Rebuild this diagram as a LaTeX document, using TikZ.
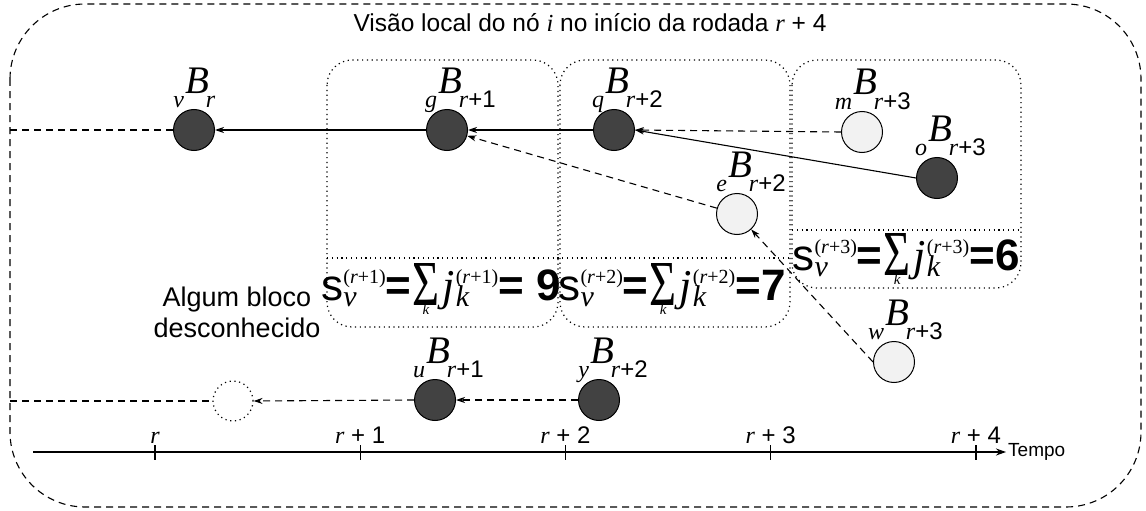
\documentclass[tikz,border=0pt]{standalone}
\usepackage{fontspec}
\usepackage{graphicx}
\setmainfont{Liberation Sans}
\newfontfamily\serif{Liberation Serif}
\usetikzlibrary{arrows.meta,positioning}
\definecolor{escuro}{HTML}{424242}
\definecolor{claro}{HTML}{F2F2F2}
\newcommand{\fsz}[1]{\fontsize{#1}{#1}\selectfont}
\newcommand{\itl}[1]{{\serif\itshape #1}}
% bloco: letra do no a esquerda, B, rodada a direita
\newcommand{\blk}[2]{\llap{\fsz{24}\itl{#1}\kern1pt}\raisebox{14pt}{\fsz{39}\itl{B}}\rlap{\kern-3pt\fsz{24}\itl{r}#2}}
% soma das rodadas
\newcommand{\ssc}[2]{\rlap{\raisebox{-6pt}{#2}}\raisebox{17pt}{#1}}
\newcommand{\rod}[1]{\fsz{20}\serif(\textit{r}+#1)}
\newcommand{\somat}{\rlap{\raisebox{-5pt}{\resizebox{27pt}{42pt}{\serif Σ}}}\makebox[27pt][c]{\raisebox{-14pt}{\fsz{15}\itl{k}}}}
\newcommand{\soma}[2]{\fsz{44}s\ssc{\rod{#1}}{\fsz{30}\itl{v}}{\bfseries=}\kern1pt\somat\kern3pt{\fsz{44}\itl{j}}\kern1pt\ssc{\rod{#1}}{\fsz{30}\itl{k}}{\bfseries=#2}}

\begin{document}
\begin{tikzpicture}[x=1pt,y=-1pt,
  bloco/.style={circle,draw,line width=1pt,minimum size=41pt,inner sep=0pt},
  escuro/.style={bloco,fill=escuro},
  claro/.style={bloco,fill=claro},
  rotulo/.style={anchor=base,inner sep=0pt},
  seta/.style={-{Stealth[length=9pt,width=6pt]},line width=1.1pt},
  tracejado/.style={seta,dash pattern=on 7pt off 5pt},
  pontilhado/.style={line width=1.2pt,dash pattern=on 1.2pt off 3.6pt},
  caixa/.style={pontilhado,rounded corners=25pt}]
\useasboundingbox (0,0) rectangle (1146,511);
% moldura e titulo
\draw[line width=1.1pt,dash pattern=on 7pt off 5pt,rounded corners=75pt] (10,4) rectangle (1141,507);
\node[rotulo,font=\fsz{24.5}] (titulo) at (590,32) {Visão local do nó \itl{i} no início da rodada \itl{r} + 4};

% rodadas
\draw[caixa] (327,60) rectangle (558,327);
\draw[caixa] (560,60) rectangle (790,327);
\draw[caixa] (792,60) rectangle (1021,288);
\draw[pontilhado] (327,258) -- (790,258);
\draw[pontilhado] (792,230) -- (1021,230);
\node[rotulo] (s1) at (441,300) {\soma{1}{ 9}};
\node[rotulo] (s2) at (672,300) {\soma{2}{7}};
\node[rotulo] (s3) at (906,270) {\soma{3}{6}};

% blocos
\node[escuro] (v) at (194,130) {};
\node[escuro] (g) at (447,130) {};
\node[escuro] (q) at (614,130) {};
\node[claro] (m) at (862,132) {};
\node[escuro] (o) at (937,178) {};
\node[claro] (e) at (737,214) {};
\node[claro] (w) at (894,362) {};
\node[escuro] (u) at (435,400) {};
\node[escuro] (y) at (599,400) {};
\node[circle,draw,pontilhado,minimum size=40pt,inner sep=0pt] (x) at (233,401) {};
\node[rotulo,align=center,font=\fsz{27}] (xt) at (237,337) {Algum bloco\\[4pt]desconhecido};

\node[rotulo] at ([xshift=3pt,yshift=2pt]v.north) {\blk{v}{}};
\node[rotulo] at ([xshift=3pt,yshift=2pt]g.north) {\blk{g}{+1}};
\node[rotulo] at ([xshift=3pt,yshift=2pt]q.north) {\blk{q}{+2}};
\node[rotulo] at ([xshift=3pt,yshift=2pt]m.north) {\blk{m}{+3}};
\node[rotulo] at ([xshift=3pt,yshift=2pt]o.north) {\blk{o}{+3}};
\node[rotulo] at ([xshift=3pt,yshift=2pt]e.north) {\blk{e}{+2}};
\node[rotulo] at ([xshift=3pt,yshift=2pt]w.north) {\blk{w}{+3}};
\node[rotulo] at ([xshift=3pt,yshift=2pt]u.north) {\blk{u}{+1}};
\node[rotulo] at ([xshift=3pt,yshift=2pt]y.north) {\blk{y}{+2}};

% ligacoes
\coordinate (iv) at (10,130);
\coordinate (ix) at (10,401);
\draw[line width=1.1pt,dash pattern=on 7pt off 5pt] (iv) -- (v.west);
\draw[line width=1.1pt,dash pattern=on 7pt off 5pt] (ix) -- (x.west);
\draw[seta] (g.west) -- (v.east);
\draw[seta] (q.west) -- (g.east);
\draw[tracejado] (m.west) -- (q.east);
\draw[seta] (o.west) -- (q.east);
\draw[tracejado] (e) -- (g);
\draw[tracejado] (w.west) -- (e);
\draw[tracejado] (y.west) -- (u.east);
\draw[tracejado] (u.west) -- (x.east);

% eixo do tempo
\coordinate (t0) at (33,452);
\coordinate (t1) at (1006,452);
\draw[-{Stealth[length=10pt,width=7pt]},line width=1.1pt] (t0) -- (t1);
\foreach \i in {0,...,4} {
  \draw[line width=1.1pt] (155+205.25*\i,445) -- (155+205.25*\i,460);
  \node[rotulo,font=\fsz{24}] at (155+205.25*\i,443) {\itl{r}\ifnum\i>0{} + \i\fi};
}
\node[anchor=base west,inner sep=0pt,font=\fsz{19}] (tempo) at (1008,456) {Tempo};
\end{tikzpicture}
\end{document}
